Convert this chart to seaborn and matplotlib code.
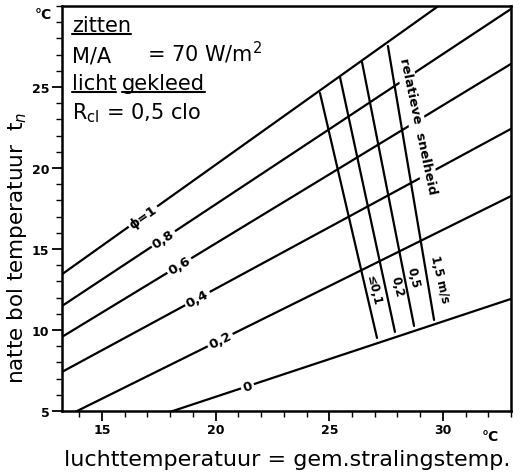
import numpy as np
import pandas as pd
import matplotlib
matplotlib.use("Agg")
import matplotlib.pyplot as plt
import seaborn as sns
from matplotlib.lines import Line2D
from matplotlib.ticker import MultipleLocator

# ---------------- data ----------------
air_temp_ends = [13.0, 33.0]                 # air temperature (°C) at line ends
phi_labels = ["ϕ=1", "0,8", "0,6", "0,4", "0,2", "0"]
wb_phi_1 = [13.2, 33.2]
wb_phi_08 = [11.26, 29.82]
wb_phi_06 = [9.37, 26.43]
wb_phi_04 = [7.23, 22.42]
wb_phi_02 = [4.37, 18.27]
wb_phi_0 = [2.62, 11.92]
phi_label_x = [16.8, 17.7, 18.4, 19.2, 20.2, 21.4]

speed_labels = ["≤0,1", "0,2", "0,5", "1,5 m/s"]
speed_air_top = [24.59, 25.47, 26.44, 27.58]
speed_wb_top = [24.63, 25.62, 26.54, 27.53]
speed_air_bottom = [27.10, 27.89, 28.73, 29.61]
speed_wb_bottom = [9.51, 9.88, 10.25, 10.62]
speed_label_x = [26.95, 27.98, 28.68, 29.87]
speed_label_y = [12.5, 12.7, 13.3, 13.2]

x_ticks = [15, 20, 25, 30]
y_ticks = [5, 10, 15, 20, 25]

# ---------------- build long table ----------------
phi_series = [wb_phi_1, wb_phi_08, wb_phi_06, wb_phi_04, wb_phi_02, wb_phi_0]
rows = []
for lab, wb in zip(phi_labels, phi_series):
    for a, w in zip(air_temp_ends, wb):
        rows.append(dict(curve="phi " + lab, t_air=a, t_wb=w))
for lab, at, wt, ab, wbb in zip(speed_labels, speed_air_top, speed_wb_top,
                                speed_air_bottom, speed_wb_bottom):
    rows.append(dict(curve="v " + lab, t_air=at, t_wb=wt))
    rows.append(dict(curve="v " + lab, t_air=ab, t_wb=wbb))
df = pd.DataFrame(rows)

sns.set_style("white")
plt.rcParams["font.family"] = ["DejaVu Sans"]
plt.rcParams["text.color"] = "black"
plt.rcParams["xtick.color"] = "black"
plt.rcParams["ytick.color"] = "black"

fig = plt.figure(figsize=(5.21, 4.77), dpi=100)
ax = fig.add_axes([0.119, 0.1363, 0.862, 0.849])

sns.lineplot(data=df, x="t_air", y="t_wb", units="curve", estimator=None,
             sort=False, color="black", lw=1.6, ax=ax, legend=False)

ax.set_xlim(13.24, 33.0)
ax.set_ylim(5.0, 30.0)
ax.set_xticks(x_ticks)
ax.set_yticks(y_ticks)
ax.xaxis.set_minor_locator(MultipleLocator(1))
ax.yaxis.set_minor_locator(MultipleLocator(1))
ax.tick_params(which="major", direction="out", length=7, width=1.3,
               labelsize=9, colors="black", pad=2, bottom=True, left=True)
ax.tick_params(which="minor", direction="out", length=4, width=1.0,
               colors="black", bottom=True, left=True)
for lab in ax.get_xticklabels() + ax.get_yticklabels():
    lab.set_fontweight("bold")
ax.set_xlabel("")
ax.set_ylabel("")
for s in ax.spines.values():
    s.set_linewidth(1.8)
    s.set_color("black")

# phi labels inline on the lines
for lab, wb, lx in zip(phi_labels, phi_series, phi_label_x):
    slope = (wb[1] - wb[0]) / (air_temp_ends[1] - air_temp_ends[0])
    ly = np.interp(lx, air_temp_ends, wb)
    ax.text(lx, ly, lab, rotation=np.degrees(np.arctan(slope)),
            transform_rotates_text=True, rotation_mode="anchor",
            ha="center", va="center", fontsize=9.5, fontweight="bold",
            color="black", bbox=dict(fc="white", ec="none", pad=1.5))

# speed labels
for lab, lx, ly in zip(speed_labels, speed_label_x, speed_label_y):
    ax.text(lx, ly, lab, rotation=-77, rotation_mode="anchor",
            ha="center", va="center", fontsize=8.5, fontweight="bold",
            color="black")

ax.text(28.88, 22.6, "relatieve  snelheid", rotation=-78, rotation_mode="anchor",
        ha="center", va="center", fontsize=9.5, fontweight="bold",
        color="black", bbox=dict(fc="white", ec="none", pad=1.5))

# top-left information block
fs_info = 15
t_zit = ax.text(0.022, 0.938, "zitten", transform=ax.transAxes,
                fontsize=fs_info, ha="left", va="baseline")
ax.text(0.022, 0.864, "M/A", transform=ax.transAxes, fontsize=fs_info,
        ha="left", va="baseline")
ax.text(0.189, 0.864, "= 70 W/m$^2$", transform=ax.transAxes,
        fontsize=fs_info, ha="left", va="baseline")
t_licht = ax.text(0.022, 0.795, "licht", transform=ax.transAxes,
                  fontsize=fs_info, ha="left", va="baseline")
t_gek = ax.text(0.134, 0.795, "gekleed", transform=ax.transAxes,
                fontsize=fs_info, ha="left", va="baseline")
ax.text(0.022, 0.723, "R$_{\\mathrm{cl}}$ = 0,5 clo", transform=ax.transAxes,
        fontsize=fs_info, ha="left", va="baseline")

# unit markers and axis titles
fig.text(43 / 521, 1 - 15 / 477, "°C", ha="center", va="center",
         fontsize=10, fontweight="bold")
fig.text(490 / 521, 1 - 437 / 477, "°C", ha="center", va="center",
         fontsize=10, fontweight="bold")
fig.text(0.033, 0.48, "natte bol temperatuur  t$_n$", rotation=90,
         ha="center", va="center", fontsize=15.5)
fig.text(0.551, 0.036, "luchttemperatuur = gem.stralingstemp.",
         ha="center", va="center", fontsize=16)

# underlines
fig.canvas.draw()
renderer = fig.canvas.get_renderer()
inv = fig.transFigure.inverted()
for t in (t_zit, t_licht, t_gek):
    bb = t.get_window_extent(renderer)
    (x0, y0), (x1, _) = inv.transform([(bb.x0, bb.y0 + 1), (bb.x1, bb.y0 + 1)])
    fig.add_artist(Line2D([x0, x1], [y0, y0], transform=fig.transFigure,
                          color="black", lw=1.5))

fig.savefig("out.png", dpi=100)
